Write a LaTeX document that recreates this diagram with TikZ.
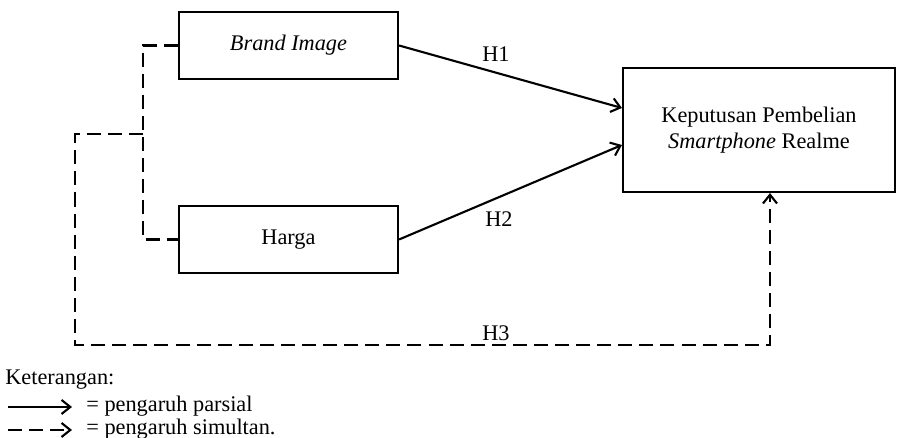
\documentclass[tikz,border=0pt]{standalone}
\usepackage{fontspec}
\setmainfont{Liberation Serif}
\usetikzlibrary{arrows.meta}
\newlength{\du}
\setlength{\du}{0.02cm}

\begin{document}
\begin{tikzpicture}[x=\du,y=-\du,
  font=\fontsize{12.7}{15}\selectfont,
  varbox/.style={draw, line width=1.2pt, inner sep=0pt, align=center},
  link/.style={line width=1.2pt, -{Straight Barb[length=5pt,width=8pt,line width=1.2pt]}},
  simlink/.style={line width=1.3pt, dash pattern=on 8pt off 4pt},
  hlabel/.style={inner sep=1pt}]
\useasboundingbox (0,0) rectangle (897,438);
% variables
\node[varbox, minimum width=219\du, minimum height=67\du] (brand) at (288.5,45.5) {\textit{Brand Image}};
\node[varbox, minimum width=219\du, minimum height=67\du] (harga) at (288.5,239.5) {Harga};
\node[varbox, minimum width=272\du, minimum height=124\du] (keputusan) at (759,130)
  {Keputusan Pembelian\\\textit{Smartphone} Realme};
% partial effects
\draw[link] (brand.east) -- (keputusan.west |- 0,108);
\draw[link] (harga.east) -- (keputusan.west |- 0,145);
\node[hlabel] (h1) at (496,54) {H1};
\node[hlabel] (h2) at (499,219) {H2};
% simultaneous effect
\coordinate (join) at (143,134);
\coordinate (bottom) at (770,345);
\draw[simlink] (brand.west) -| (join) |- (harga.west);
\draw[simlink, -{Straight Barb[length=5pt,width=8pt,line width=1.2pt]}]
  (join) -- (75,134) |- (bottom) -- (bottom |- keputusan.south);
\node[hlabel] (h3) at (496,333) {H3};
% legend
\node[anchor=west, inner sep=0pt] (ket) at (5,380) {Keterangan:};
\coordinate (l1a) at (8,407);
\coordinate (l1b) at (72,407);
\coordinate (l2a) at (8,430);
\coordinate (l2b) at (72,430);
\draw[link] (l1a) -- (l1b);
\draw[simlink, -{Straight Barb[length=5pt,width=8pt,line width=1.2pt]}] (l2a) -- (l2b);
\node[anchor=west, inner sep=0pt] (parsial) at (86,406) {= pengaruh parsial};
\node[anchor=west, inner sep=0pt] (simultan) at (86,429) {= pengaruh simultan.};
\end{tikzpicture}
\end{document}
